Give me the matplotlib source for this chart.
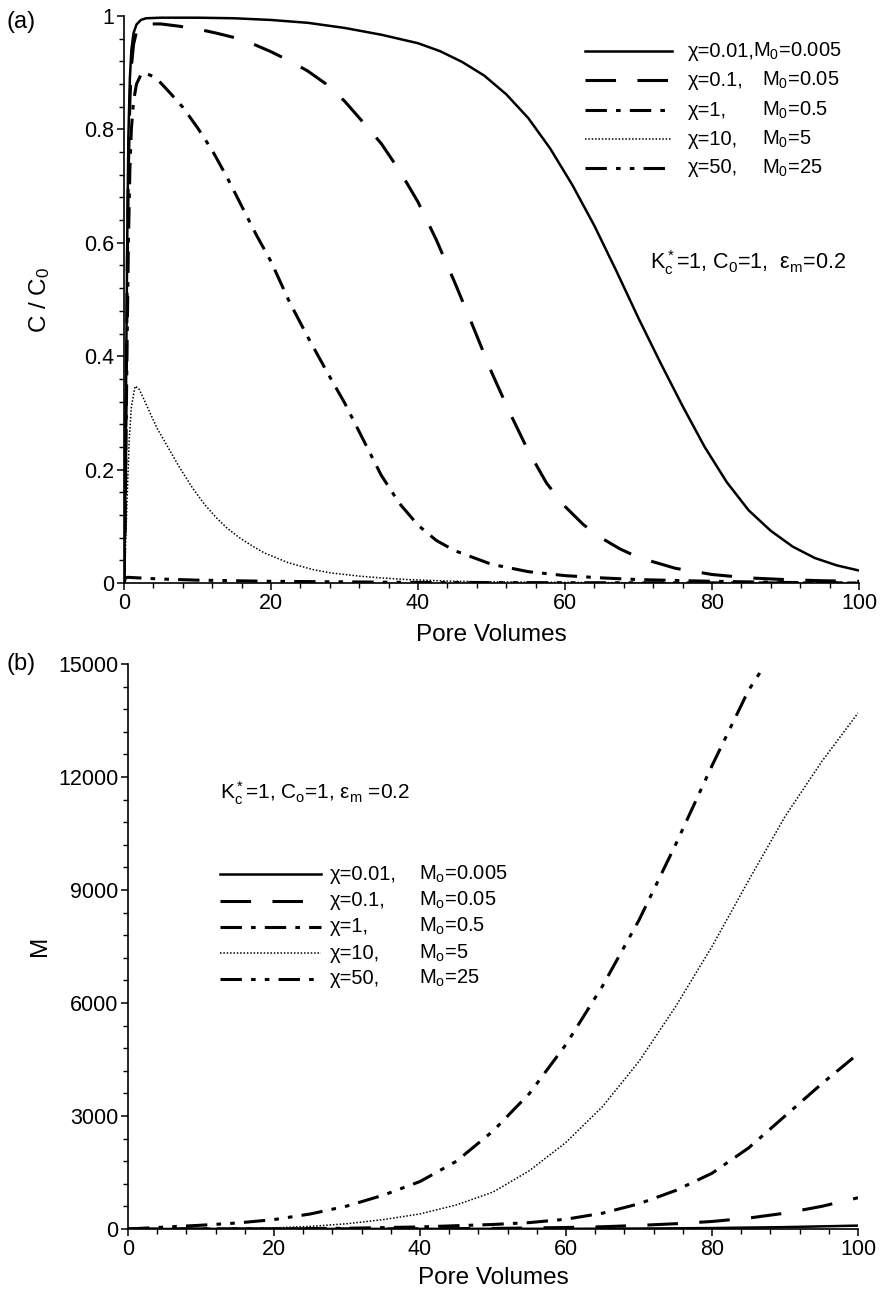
import matplotlib
matplotlib.use('Agg')
import matplotlib.pyplot as plt
from matplotlib.ticker import MultipleLocator, FuncFormatter

plt.rcParams['font.family'] = ['Liberation Sans', 'DejaVu Sans']
plt.rcParams['mathtext.fontset'] = 'custom'
plt.rcParams['mathtext.rm'] = 'Liberation Sans'
plt.rcParams['mathtext.it'] = 'Liberation Sans:italic'

# (a) relative concentration C/C0 vs pore volumes
pv_a1 = [0, 0.15, 0.3, 0.45, 0.6, 0.8, 1.0, 1.3, 1.7, 2.3, 3, 5, 10, 15, 20, 25, 30, 35, 40,
         43, 46, 49, 52, 55, 58, 61, 64, 67, 70, 73, 76, 79, 82, 85, 88, 91, 94, 97, 100]
c_a1 = [0, 0.12, 0.38, 0.62, 0.79, 0.89, 0.94, 0.97, 0.985, 0.993, 0.996, 0.997, 0.997, 0.996,
        0.993, 0.988, 0.979, 0.967, 0.952, 0.938, 0.919, 0.895, 0.862, 0.820, 0.766, 0.702,
        0.630, 0.550, 0.467, 0.388, 0.312, 0.240, 0.178, 0.128, 0.092, 0.064, 0.044, 0.031, 0.022]

pv_a2 = [0, 0.15, 0.3, 0.45, 0.6, 0.8, 1.0, 1.3, 1.7, 2.3, 3, 5, 7.5, 10, 12.5, 15, 17.5, 20,
         22.5, 25, 27.5, 30, 32.5, 35, 37.5, 40, 42.5, 45, 47.5, 50, 52.5, 55, 57.5, 60, 62.5,
         65, 67.5, 70, 75, 80, 85, 90, 95, 100]
c_a2 = [0, 0.10, 0.33, 0.56, 0.73, 0.85, 0.91, 0.95, 0.972, 0.983, 0.986, 0.986, 0.982, 0.977,
        0.970, 0.962, 0.951, 0.937, 0.921, 0.903, 0.880, 0.850, 0.813, 0.775, 0.727, 0.672,
        0.605, 0.530, 0.452, 0.372, 0.300, 0.233, 0.176, 0.135, 0.103, 0.079, 0.060, 0.045,
        0.026, 0.015, 0.009, 0.006, 0.004, 0.003]

pv_a3 = [0, 0.2, 0.4, 0.6, 0.8, 1.0, 1.3, 1.7, 2.4, 3, 4, 5, 6.5, 8, 10, 12, 14, 16, 18, 20,
         22.5, 25, 27.5, 30, 32.5, 35, 37.5, 40, 42.5, 45, 50, 55, 60, 65, 70, 80, 90, 100]
c_a3 = [0, 0.15, 0.40, 0.60, 0.73, 0.80, 0.85, 0.88, 0.899, 0.899, 0.893, 0.882, 0.861, 0.839,
        0.803, 0.763, 0.716, 0.665, 0.614, 0.567, 0.496, 0.434, 0.375, 0.318, 0.254, 0.190,
        0.140, 0.102, 0.075, 0.057, 0.033, 0.020, 0.013, 0.009, 0.006, 0.003, 0.001, 0.0]

pv_a4 = [0, 0.2, 0.4, 0.7, 1.0, 1.5, 2.0, 2.5, 3.4, 4.5, 6, 7.5, 9.3, 11, 12.5, 14, 15.8, 17.5,
         19.1, 21, 22.3, 25.6, 28, 32.1, 35, 38.6, 45, 50, 60, 70, 80, 100]
c_a4 = [0, 0.06, 0.14, 0.25, 0.31, 0.347, 0.343, 0.330, 0.304, 0.273, 0.239, 0.205, 0.168,
        0.138, 0.116, 0.097, 0.079, 0.065, 0.053, 0.043, 0.036, 0.024, 0.018, 0.012, 0.009,
        0.006, 0.003, 0.002, 0.001, 0.0005, 0.0, 0.0]

pv_a5 = [0, 0.2, 0.5, 2, 5, 10, 20, 30, 40, 60, 100]
c_a5 = [0, 0.009, 0.010, 0.009, 0.007, 0.005, 0.003, 0.002, 0.001, 0.0005, 0.0]

# (b) accumulated mass M vs pore volumes
pv_b1 = [0, 60, 70, 80, 90, 100]
m_b1 = [0, 5, 12, 25, 50, 90]

pv_b2 = [0, 40, 50, 60, 65, 70, 75, 80, 85, 90, 95, 100]
m_b2 = [0, 5, 15, 40, 60, 95, 140, 200, 290, 420, 600, 830]

pv_b3 = [0, 20, 30, 40, 50, 55, 60, 65, 70, 75, 80, 85, 90, 95, 100]
m_b3 = [0, 5, 20, 55, 120, 170, 260, 420, 670, 1020, 1480, 2150, 3000, 3850, 4650]

pv_b4 = [0, 10, 20, 25, 30, 35, 40, 45, 50, 55, 60, 65, 70, 75, 80, 85, 90, 95, 100]
m_b4 = [0, 5, 30, 70, 140, 250, 400, 640, 980, 1550, 2300, 3250, 4450, 5900, 7500, 9250,
        10950, 12400, 13700]

pv_b5 = [0, 5, 10, 15, 20, 25, 30, 35, 40, 45, 50, 55, 60, 65, 70, 75, 80, 85, 87]
m_b5 = [0, 50, 100, 160, 250, 400, 610, 900, 1260, 1800, 2600, 3600, 4900, 6450, 8200, 10200,
        12300, 14300, 14900]

chi_labels = ['χ=0.01,', 'χ=0.1,', 'χ=1,', 'χ=10,', 'χ=50,']
m0_labels = ['0.005', '0.05', '0.5', '5', '25']

styles = [
    dict(linestyle='-', linewidth=1.8),
    dict(linestyle=(0, (10, 7)), linewidth=2.2),
    dict(linestyle=(0, (7, 3, 1.5, 3)), linewidth=2.2),
    dict(linestyle=(0, (1, 1.2)), linewidth=1.1),
    dict(linestyle=(0, (7, 3, 1.5, 3, 1.5, 3)), linewidth=2.2),
]

fig = plt.figure(figsize=(8.88, 12.96), dpi=100)
W, H = 888, 1296
ax1 = fig.add_axes([124 / W, 1 - 583 / H, 735 / W, 567 / H])
ax2 = fig.add_axes([128 / W, 1 - 1229 / H, 730 / W, 565 / H])

for x, y, st in zip([pv_a1, pv_a2, pv_a3, pv_a4, pv_a5], [c_a1, c_a2, c_a3, c_a4, c_a5], styles):
    ax1.plot(x, y, color='black', **st)
for x, y, st in zip([pv_b1, pv_b2, pv_b3, pv_b4, pv_b5], [m_b1, m_b2, m_b3, m_b4, m_b5], styles):
    ax2.plot(x, y, color='black', **st)

ax1.set_xlim(0, 100)
ax1.set_ylim(0, 1)
ax1.xaxis.set_major_locator(MultipleLocator(20))
ax1.xaxis.set_minor_locator(MultipleLocator(4))
ax1.yaxis.set_major_locator(MultipleLocator(0.2))
ax1.yaxis.set_minor_locator(MultipleLocator(0.04))
ax1.yaxis.set_major_formatter(FuncFormatter(lambda v, p: '%g' % round(v, 2)))

ax2.set_xlim(0, 100)
ax2.set_ylim(0, 15000)
ax2.xaxis.set_major_locator(MultipleLocator(20))
ax2.xaxis.set_minor_locator(MultipleLocator(4))
ax2.yaxis.set_major_locator(MultipleLocator(3000))
ax2.yaxis.set_minor_locator(MultipleLocator(600))

for ax in (ax1, ax2):
    for s in ('top', 'right'):
        ax.spines[s].set_visible(False)
    ax.spines['left'].set_linewidth(1.2)
    ax.spines['bottom'].set_linewidth(1.2)
    ax.tick_params(which='major', direction='out', length=5, width=1.1, labelsize=15.5, pad=2)
    ax.tick_params(which='minor', direction='out', length=3.5, width=1.0)

# axis titles
fig.text(40 / W, 1 - 300 / H, 'C / C$_0$', rotation=90, ha='center', va='center', fontsize=17.5)
fig.text(491 / W, 1 - 635 / H, 'Pore Volumes', ha='center', va='center', fontsize=17.5)
fig.text(40 / W, 1 - 946 / H, 'M', rotation=90, ha='center', va='center', fontsize=17.5)
fig.text(493 / W, 1 - 1278 / H, 'Pore Volumes', ha='center', va='center', fontsize=17.5)
fig.text(6 / W, 1 - 22 / H, '(a)', ha='left', va='center', fontsize=17)
fig.text(6 / W, 1 - 664 / H, '(b)', ha='left', va='center', fontsize=17)

# legend (a), drawn by hand so the M0 column lines up
rows_a = [0.938, 0.887, 0.834, 0.783, 0.732]
for i, y in enumerate(rows_a):
    ax1.plot([0.627, 0.746], [y, y], transform=ax1.transAxes, color='black', **styles[i])
    ax1.text(0.767, y, chi_labels[i], transform=ax1.transAxes, fontsize=14.5, va='center')
    mx = 0.856 if i == 0 else 0.868
    ax1.text(mx, y, 'M$_0$=' + m0_labels[i], transform=ax1.transAxes, fontsize=14.5, va='center')
ax1.text(0.716, 0.566, r'K$_\mathregular{c}^*$=1, C$_0$=1,  ε$_\mathregular{m}$=0.2',
         transform=ax1.transAxes, fontsize=15.5, va='center')

# legend (b)
rows_b = [0.628, 0.581, 0.535, 0.488, 0.443]
for i, y in enumerate(rows_b):
    ax2.plot([0.126, 0.264], [y, y], transform=ax2.transAxes, color='black', **styles[i])
    ax2.text(0.277, y, chi_labels[i], transform=ax2.transAxes, fontsize=14.5, va='center')
    ax2.text(0.398, y, r'M$_\mathregular{o}$=' + m0_labels[i], transform=ax2.transAxes,
             fontsize=14.5, va='center')
ax2.text(0.126, 0.772, r'K$_\mathregular{c}^*$=1, C$_\mathregular{o}$=1, ε$_\mathregular{m}$ =0.2',
         transform=ax2.transAxes, fontsize=15, va='center')

fig.savefig('out.png', dpi=100)
